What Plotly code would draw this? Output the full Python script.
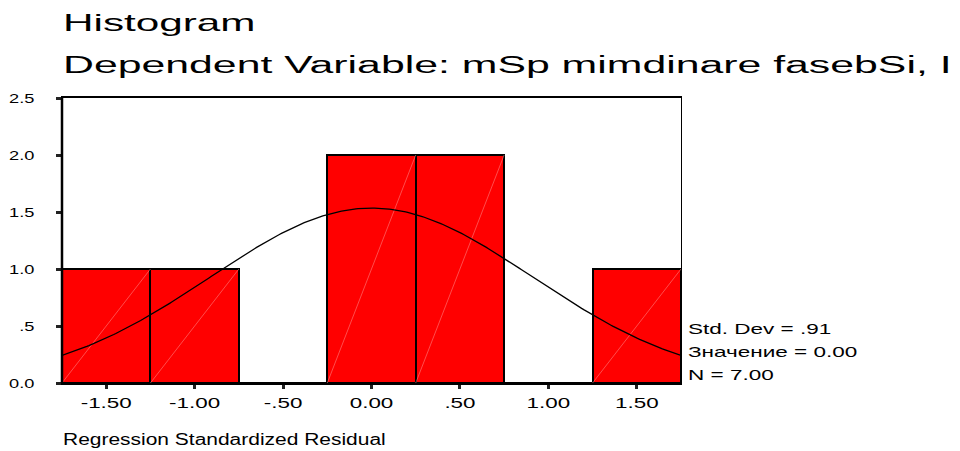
import numpy as np
import plotly.graph_objects as go

# ---- data ----
bin_centers = [-1.5, -1.0, -0.5, 0.0, 0.5, 1.0, 1.5]
counts = [1, 1, 0, 2, 2, 0, 1]
bin_width = 0.5
x_tick_labels = ["-1.50", "-1.00", "-.50", "0.00", ".50", "1.00", "1.50"]
y_tick_values = [0, 0.5, 1.0, 1.5, 2.0, 2.5]
y_tick_labels = ["0.0", ".5", "1.0", "1.5", "2.0", "2.5"]
std_dev = 0.91
mean_value = 0.00
n_obs = 7.00

title_text = "Histogram"
subtitle_text = "Dependent Variable: mSp mimdinare fasebSi, I"
x_title_text = "Regression Standardized Residual"
stats_texts = ["Std. Dev = .91", "Значение = 0.00", "N = 7.00"]

FONT = "Liberation Sans, Arial, sans-serif"
W, H = 960, 451
ML, MR, MT, MB = 62, 279, 98, 68
PH = H - MT - MB


def py(pix):
    """pixel row -> paper y"""
    return (H - MB - pix) / PH


def px(pix):
    return (pix - ML) / (W - ML - MR)


fig = go.Figure()

fig.add_trace(go.Bar(
    x=bin_centers, y=counts, width=bin_width,
    marker=dict(color="#ff0000", line=dict(color="black", width=2)),
    hoverinfo="skip", showlegend=False,
))

# faint diagonal hatch line inside each bar (corner to corner)
dx, dy = [], []
for c, n in zip(bin_centers, counts):
    if n > 0:
        dx += [c - bin_width / 2, c + bin_width / 2, None]
        dy += [0, n, None]
fig.add_trace(go.Scatter(
    x=dx, y=dy, mode="lines",
    line=dict(color="rgba(255,160,160,0.8)", width=0.6),
    hoverinfo="skip", showlegend=False,
))

# fitted normal curve from the reported statistics
xc = np.linspace(-1.75, 1.75, 300)
yc = n_obs * bin_width / (std_dev * np.sqrt(2 * np.pi)) * np.exp(-0.5 * ((xc - mean_value) / std_dev) ** 2)
fig.add_trace(go.Scatter(
    x=xc, y=yc, mode="lines", line=dict(color="black", width=1.3),
    hoverinfo="skip", showlegend=False,
))

annotations = [
    dict(text=title_text, x=0, xref="paper", xanchor="left", y=py(22.5), yref="paper",
         yanchor="middle", font=dict(size=24, family=FONT, color="black")),
    dict(text=subtitle_text, x=0, xref="paper", xanchor="left", y=py(65), yref="paper",
         yanchor="middle", font=dict(size=23, family=FONT, color="black")),
    dict(text=x_title_text, x=0, xref="paper", xanchor="left", y=py(439), yref="paper",
         yanchor="middle", font=dict(size=16, family=FONT, color="black")),
]
for txt, row in zip(stats_texts, [328, 351, 374]):
    annotations.append(dict(text=txt, x=px(687), xref="paper", xanchor="left", y=py(row),
                            yref="paper", yanchor="middle",
                            font=dict(size=15, family=FONT, color="black")))
for a in annotations:
    a.update(showarrow=False, align="left", borderpad=0)

fig.update_layout(
    width=W, height=H,
    margin=dict(l=ML, r=MR, t=MT, b=MB, pad=0),
    paper_bgcolor="white", plot_bgcolor="white",
    bargap=0,
    font=dict(family=FONT, color="black"),
    annotations=annotations,
    xaxis=dict(range=[-1.75, 1.75], tickvals=bin_centers, ticktext=x_tick_labels,
               ticks="outside", ticklen=4, tickwidth=3, tickcolor="#222",
               showgrid=False, zeroline=False, showline=True, linecolor="black",
               linewidth=1.5, mirror=True, tickfont=dict(size=14, family=FONT),
               ticklabelstandoff=2),
    yaxis=dict(range=[0, 2.5], tickvals=y_tick_values, ticktext=y_tick_labels,
               ticks="outside", ticklen=5, tickwidth=3, tickcolor="#222",
               showgrid=False, zeroline=False, showline=True, linecolor="black",
               linewidth=1, mirror=True, tickfont=dict(size=13, family=FONT),
               ticklabelstandoff=19),
    shapes=[dict(type="line", xref="paper", yref="paper", x0=0, x1=0, y0=0, y1=1,
                 line=dict(color="black", width=2.5))],
)

post = """
document.documentElement.style.margin = '0';
document.body.style.margin = '0';
document.body.style.overflow = 'hidden';
var gd = document.getElementById('{plot_id}');
function stretchEl(t, f) {
  var w = t.getComputedTextLength();
  if (w > 0) { t.setAttribute('textLength', w * f); t.setAttribute('lengthAdjust', 'spacingAndGlyphs'); }
}
gd.querySelectorAll('.xtick text').forEach(function(t){ stretchEl(t, 1.6); });
gd.querySelectorAll('.ytick text').forEach(function(t){ stretchEl(t, 1.4); });
var fac = [1.76, 1.86, 1.31, 1.5, 1.5, 1.5];
gd.querySelectorAll('.annotation').forEach(function(g){
  var i = parseInt(g.getAttribute('data-index'));
  var t = g.querySelector('text.annotation-text');
  if (t && !isNaN(i)) { stretchEl(t, fac[i]); }
});
"""

fig.write_html("out.html", post_script=post, config={"displayModeBar": False})
